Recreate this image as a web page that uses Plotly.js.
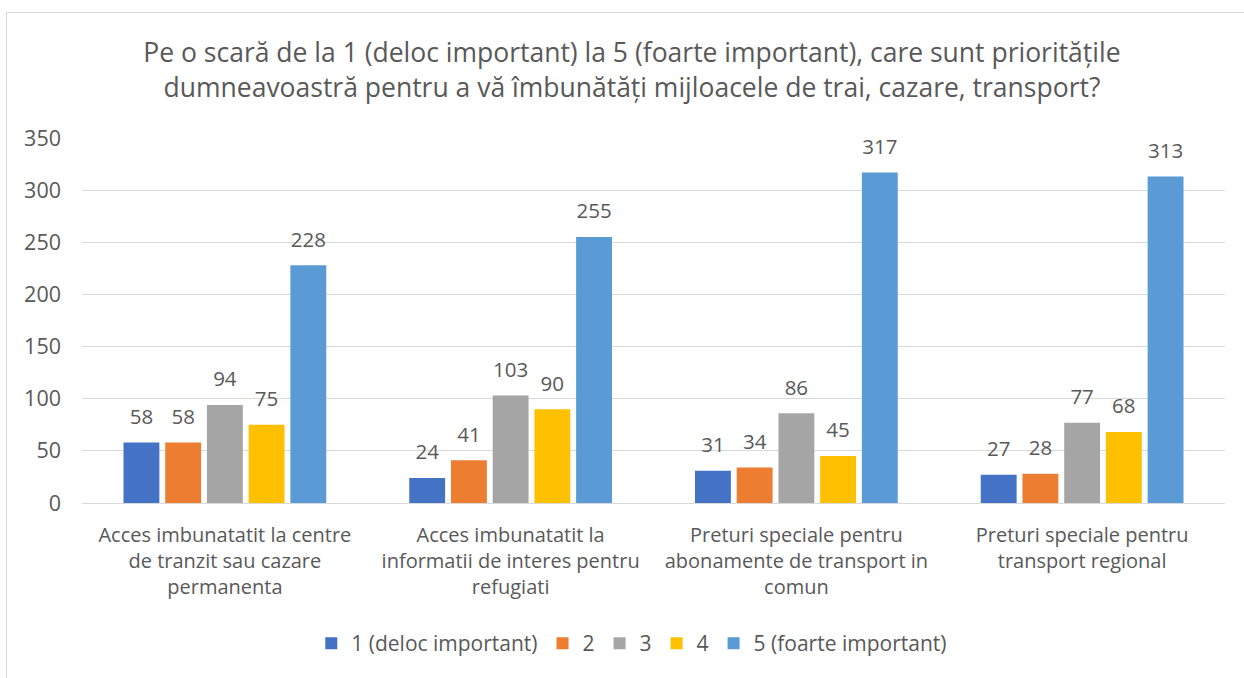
<!DOCTYPE html>
<html><head><meta charset="utf-8">
<script src="https://cdn.plot.ly/plotly-3.0.1.min.js"></script>
<style>
html,body{margin:0;padding:0;background:#fff;}
#frame{position:absolute;left:6px;top:12px;width:1250px;height:680px;border:1.5px solid #d9d9d9;box-sizing:border-box;}
#chart{position:absolute;left:0;top:0;width:1244px;height:678px;}
</style></head>
<body>
<div id="frame"></div>
<div id="chart"></div>
<script>
const categories = [
  "Acces imbunatatit la centre<br>de tranzit sau cazare<br>permanenta",
  "Acces imbunatatit la<br>informatii de interes pentru<br>refugiati",
  "Preturi speciale pentru<br>abonamente de transport in<br>comun",
  "Preturi speciale pentru<br>transport regional"
];
const seriesNames = ["1 (deloc important)", "2", "3", "4", "5 (foarte important)"];
const s1 = [58, 24, 31, 27];
const s2 = [58, 41, 34, 28];
const s3 = [94, 103, 86, 77];
const s4 = [75, 90, 45, 68];
const s5 = [228, 255, 317, 313];
const colors = ["#4472C4", "#ED7D31", "#A5A5A5", "#FFC000", "#5B9BD5"];
const values = [s1, s2, s3, s4, s5];

const font = "Open Sans, Noto Sans, sans-serif";
const bars = values.map((v, i) => ({
  type: "bar",
  name: seriesNames[i],
  x: categories,
  y: v,
  marker: {color: colors[i]},
  hoverinfo: "none",
  legendgroup: "g" + i
}));
const labels = values.map((v, i) => ({
  type: "scatter",
  mode: "markers+text",
  x: categories,
  y: v,
  text: v.map(String),
  textposition: "top center",
  marker: {size: 20, color: "rgba(0,0,0,0)"},
  textfont: {family: font, size: 20.5, color: "#595959"},
  cliponaxis: false,
  showlegend: false,
  hoverinfo: "none",
  legendgroup: "g" + i
}));

const layout = {
  width: 1244, height: 678,
  paper_bgcolor: "rgba(0,0,0,0)",
  plot_bgcolor: "rgba(0,0,0,0)",
  margin: {l: 82, r: 19, t: 138, b: 175},
  barmode: "group",
  scattermode: "group",
  bargap: 0.27,
  scattergap: 0.27,
  bargroupgap: 0.14,
  font: {family: font, color: "#595959"},
  title: {
    text: "Pe o scară de la 1 (deloc important) la 5 (foarte important), care sunt prioritățile<br>dumneavoastră pentru a vă îmbunătăți mijloacele de trai, cazare, transport?",
    font: {family: font, size: 26.5, color: "#595959"},
    x: 0.508, xanchor: "center", y: 0.908, yanchor: "middle",
    xref: "container", yref: "container"
  },
  xaxis: {
    tickfont: {family: font, size: 20, color: "#595959"},
    showline: true, linecolor: "#d9d9d9", linewidth: 1,
    ticks: "", ticklabelstandoff: 14, fixedrange: true
  },
  yaxis: {
    range: [0, 350], dtick: 50,
    tickfont: {family: font, size: 21.5, color: "#595959"},
    gridcolor: "#d9d9d9", gridwidth: 1,
    zeroline: false, showline: false,
    ticklabelstandoff: 20,
    fixedrange: true
  },
  legend: {
    orientation: "h", x: 0.481, xanchor: "center", y: -0.385, yanchor: "middle",
    font: {family: font, size: 21, color: "#595959"},
    traceorder: "normal", itemwidth: 30
  },
  showlegend: true
};

Plotly.newPlot("chart", bars.concat(labels), layout, {displayModeBar: false, staticPlot: true});
</script>
</body></html>
